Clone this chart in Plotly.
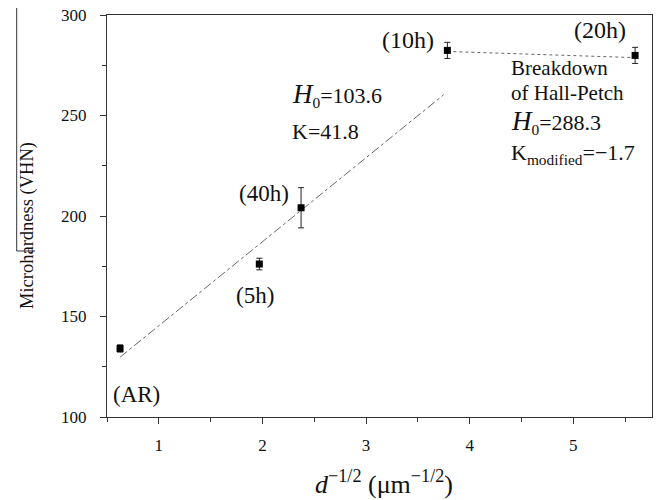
import plotly.graph_objects as go

# data
labels = ["(AR)", "(5h)", "(40h)", "(10h)", "(20h)"]
x_vals = [0.626, 1.97, 2.373, 3.785, 5.597]
y_vals = [134.1, 176.1, 204.1, 282.4, 279.9]
y_err = [1.8, 2.9, 10.0, 4.0, 4.0]

# Hall-Petch fits (from the chart text)
fit1_H0, fit1_K = 103.6, 41.8
fit1_x = [0.626, 3.75]
fit2_H0, fit2_K = 288.3, -1.7
fit2_x = [3.785, 5.597]

# page has an 8px body margin; plot area in page pixels
OFF = 8
PL, PR, PT, PB = 107, 652, 15, 417
W, H = 661 - OFF, 500 - OFF

fig = go.Figure()
fig.add_trace(go.Scatter(
    x=fit1_x, y=[fit1_H0 + fit1_K * v for v in fit1_x], mode="lines",
    line=dict(color="#666666", width=1, dash="dashdot"), showlegend=False))
fig.add_trace(go.Scatter(
    x=fit2_x, y=[fit2_H0 + fit2_K * v for v in fit2_x], mode="lines",
    line=dict(color="#666666", width=1, dash="dot"), showlegend=False))
fig.add_trace(go.Scatter(
    x=x_vals, y=y_vals, mode="markers",
    marker=dict(symbol="square", size=7, color="black"),
    error_y=dict(type="data", array=y_err, color="#222222", thickness=1, width=3),
    showlegend=False))

font = "Liberation Serif, Times New Roman, serif"
axis_common = dict(showline=True, linecolor="#333333", linewidth=1.2, mirror=True,
                   ticks="outside", ticklen=6, tickcolor="#333333", showgrid=False,
                   zeroline=False, ticklabeloverflow="allow", automargin=False,
                   tickfont=dict(family=font, size=17, color="#111"))
fig.update_xaxes(range=[0.5, 5.76], dtick=1, tick0=0, ticklabelstandoff=6,
                 minor=dict(ticks="outside", ticklen=4, dtick=0.5, tick0=0, tickcolor="#333333"),
                 **axis_common)
fig.update_yaxes(range=[100, 300], dtick=50, ticklabelstandoff=10,
                 minor=dict(ticks="outside", ticklen=4, dtick=25, tick0=0, tickcolor="#333333"),
                 **axis_common)


def px2paper(px, py):
    return (px - PL) / (PR - PL), 1 - (py - PT) / (PB - PT)


H_ITAL = "<i><span style='font-size:27px'>H</span></i><sub>0</sub>"
anns = [
    ("(10h)", 436, 40, "right", 24),
    ("(20h)", 600, 30, "center", 24),
    ("Breakdown", 509, 68, "left", 21),
    ("of Hall-Petch", 509, 93, "left", 21),
    (H_ITAL + "=288.3", 509, 122, "left", 22),
    ("K<sub>modified</sub>=\u22121.7", 509, 154, "left", 22),
    (H_ITAL + "=103.6", 290, 95, "left", 22),
    ("K=41.8", 290, 131, "left", 22),
    ("(40h)", 291, 193, "right", 23),
    ("(5h)", 255, 295, "center", 23),
    ("(AR)", 136, 394, "center", 23),
]
for text, px, py, align, size in anns:
    ax, ay = px2paper(px, py)
    fig.add_annotation(text=text, xref="paper", yref="paper", x=ax, y=ay,
                       xanchor=align, yanchor="middle", showarrow=False,
                       font=dict(family=font, size=size, color="#111"))

# axis titles
ax, ay = px2paper(27, 226)
fig.add_annotation(text="Microhardness (VHN)", xref="paper", yref="paper", x=ax, y=ay,
                   textangle=-90, showarrow=False, xanchor="center", yanchor="middle",
                   font=dict(family=font, size=18.5, color="#111"))
ax, ay = px2paper(384, 482)
fig.add_annotation(text="<i>d</i><sup>\u22121/2</sup> (\u03bcm<sup>\u22121/2</sup>)", xref="paper", yref="paper",
                   x=ax, y=ay, showarrow=False, xanchor="center", yanchor="middle",
                   font=dict(family=font, size=26, color="#111"))

# scan artifact lines near the y title
x0, y0 = px2paper(16.7, 8)
x1, y1 = px2paper(35, 251)
fig.add_shape(type="line", xref="paper", yref="paper", x0=x0, x1=x0, y0=y0, y1=y1,
              line=dict(color="#333", width=1))
fig.add_shape(type="line", xref="paper", yref="paper", x0=x0, x1=x1, y0=y1, y1=y1,
              line=dict(color="#333", width=1))

fig.update_layout(width=W, height=H,
                  margin=dict(l=PL - OFF, r=W - (PR - OFF), t=PT - OFF, b=H - (PB - OFF),
                              autoexpand=False),
                  font=dict(family=font, color="#111"),
                  plot_bgcolor="white", paper_bgcolor="white")
fig.write_html("out.html")
